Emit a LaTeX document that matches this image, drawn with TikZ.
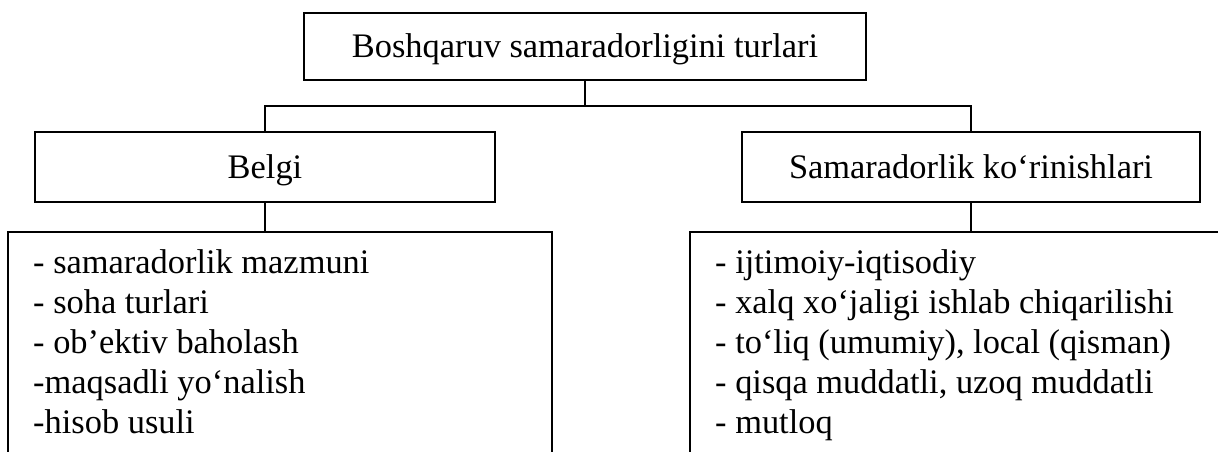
\documentclass[tikz,border=0pt]{standalone}
\usepackage{fontspec}
\setmainfont{Liberation Serif}
\begin{document}
\begin{tikzpicture}[x=1pt,y=-1pt,
  box/.style={draw, line width=1.4pt, inner sep=0pt, text height=23pt, text depth=0pt,
              font=\fontsize{34.4}{40}\selectfont},
  list/.style={anchor=north west, inner sep=0pt, align=left,
               font=\fontsize{34.4}{40}\selectfont},
  conn/.style={line width=1.4pt}]
\useasboundingbox (0,0) rectangle (1218,452);
% boxes
\node[box, minimum width=562pt, minimum height=67pt] (top) at (585,46.5) {Boshqaruv samaradorligini turlari};
\node[box, minimum width=460pt, minimum height=70pt] (belgi) at (265,167) {Belgi};
\node[box, minimum width=458pt, minimum height=70pt] (sama) at (971,167) {Samaradorlik ko‘rinishlari};
% connectors
\coordinate (hub) at (585,106);
\draw[conn] (top.south) -- (hub);
\draw[conn] (belgi.north) |- (hub) -| (sama.north);
% open bottom boxes
\coordinate (bl1) at (8,232);
\coordinate (bl2) at (552,232);
\coordinate (br1) at (690,232);
\coordinate (br2) at (1240,232);
\draw[conn] (bl1 |- 0,470) -- (bl1) -- (bl2) -- (bl2 |- 0,470);
\draw[conn] (br1 |- 0,470) -- (br1) -- (br2);
\draw[conn] (belgi.south) -- (belgi.south |- bl1);
\draw[conn] (sama.south) -- (sama.south |- br1);
% lists
\node[list] (llist) at (33,249.5) {- samaradorlik mazmuni\\- soha turlari\\- ob’ektiv baholash\\-maqsadli yo‘nalish\\-hisob usuli};
\node[list] (rlist) at (715,249.5) {- ijtimoiy-iqtisodiy\\- xalq xo‘jaligi ishlab chiqarilishi\\- to‘liq (umumiy), local (qisman)\\- qisqa muddatli, uzoq muddatli\\- mutloq};
\end{tikzpicture}
\end{document}
